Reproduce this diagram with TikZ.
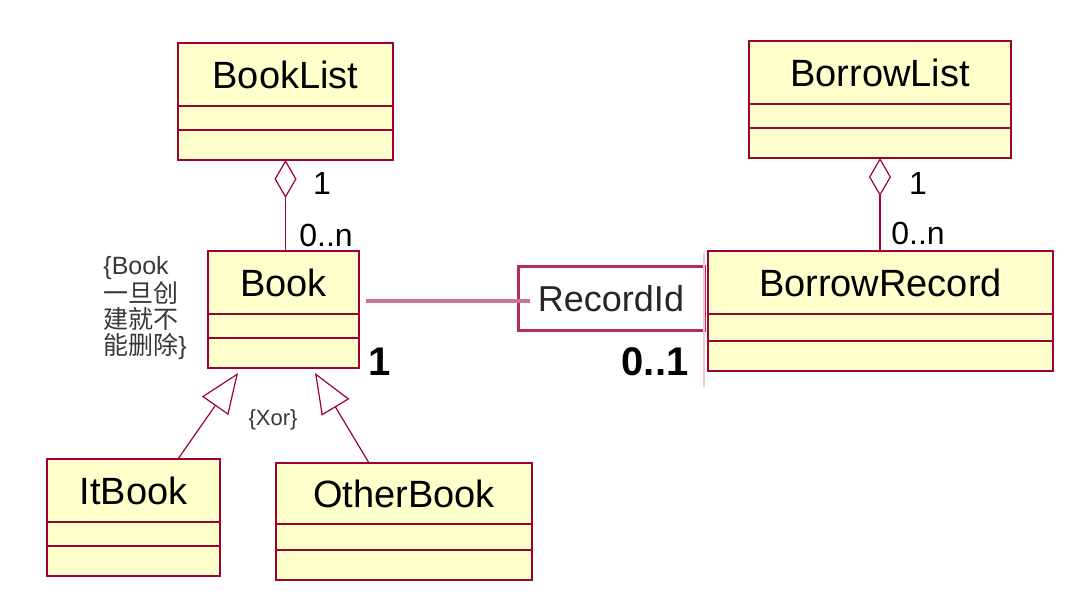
\documentclass[tikz,border=0pt]{standalone}
\usepackage{fontspec}
\setmainfont{Liberation Sans}
\newfontfamily\cjk{Noto Sans CJK SC}
\usetikzlibrary{arrows.meta,positioning,calc}
\definecolor{umlred}{RGB}{160,0,50}
\definecolor{umlfill}{RGB}{255,255,204}
\definecolor{qualline}{RGB}{205,115,150}
\definecolor{qualdraw}{RGB}{175,45,95}
\definecolor{faintline}{RGB}{240,200,215}
\definecolor{notegray}{RGB}{55,55,55}

\begin{document}
\begin{tikzpicture}[
		x=0.5pt, y=-0.5pt,
		classname/.style={rectangle, draw=umlred, fill=umlfill, line width=0.8pt, outer sep=0pt, inner sep=0pt, minimum width=#1, minimum height=31.5pt, anchor=north west, font=\fontsize{19}{22}\selectfont},
		attr/.style={rectangle, draw=umlred, fill=umlfill, line width=0.8pt, outer sep=0pt, inner sep=0pt, minimum width=#1, minimum height=12pt},
		ops/.style={rectangle, draw=umlred, fill=umlfill, line width=0.8pt, outer sep=0pt, inner sep=0pt, minimum width=#1, minimum height=15pt},
		mult/.style={inner sep=0pt, font=\fontsize{16}{18}\selectfont},
		bigmult/.style={inner sep=0pt, font=\fontsize{20}{22}\selectfont\bfseries},
		note/.style={inner sep=0pt, text=notegray, align=left, font=\fontsize{12.5}{12.8}\selectfont},
		qualifier/.style={rectangle, draw=qualdraw, line width=1.5pt, outer sep=0pt, inner sep=0pt, minimum width=93pt, minimum height=31.5pt, anchor=north west, text=black!85, font=\fontsize{18}{20}\selectfont},
		aggr/.style={draw=umlred, line width=0.6pt, -{Diamond[open, length=19pt, width=11pt]}},
		gener/.style={draw=umlred, line width=0.6pt, -{Triangle[open, length=20pt, width=16pt]}}
	]
	\useasboundingbox (0,0) rectangle (1092,593);

	% Classes
	\node (booklist) [classname=107.5pt] at (178,43) {BookList};
	\node (booklistattr) [attr=107.5pt, below=0pt of booklist] {};
	\node (booklistops) [ops=107.5pt, below=0pt of booklistattr] {};

	\node (borrowlist) [classname=131pt] at (749,41) {BorrowList};
	\node (borrowlistattr) [attr=131pt, below=0pt of borrowlist] {};
	\node (borrowlistops) [ops=131pt, below=0pt of borrowlistattr] {};

	\node (book) [classname=75.5pt] at (208,251) {Book};
	\node (bookattr) [attr=75.5pt, below=0pt of book] {};
	\node (bookops) [ops=75.5pt, below=0pt of bookattr] {};

	\node (borrowrecord) [classname=172.5pt] at (708,251) {BorrowRecord};
	\node (borrowrecordattr) [attr=172.5pt, below=0pt of borrowrecord, minimum height=13.5pt] {};
	\node (borrowrecordops) [ops=172.5pt, below=0pt of borrowrecordattr] {};

	\node (itbook) [classname=86.5pt] at (47,459) {ItBook};
	\node (itbookattr) [attr=86.5pt, below=0pt of itbook] {};
	\node (itbookops) [ops=86.5pt, below=0pt of itbookattr] {};

	\node (otherbook) [classname=128pt, minimum height=30.5pt] at (276,463) {OtherBook};
	\node (otherbookattr) [attr=128pt, below=0pt of otherbook, minimum height=13pt] {};
	\node (otherbookops) [ops=128pt, below=0pt of otherbookattr] {};

	% Qualifier
	\node (recid) [qualifier] at (518,267) {RecordId};
	\draw [faintline, line width=0.8pt] ([yshift=7pt]recid.north east) -- ([yshift=-28.5pt]recid.south east);
	\draw [qualline, line width=1.8pt] ([xshift=3.5pt,yshift=-9.25pt]book.east) -- ([xshift=6pt,yshift=-1.25pt]recid.west);

	% Aggregations
	\draw [aggr] (booklistops.south |- book.north) -- (booklistops.south);
	\draw [aggr] (borrowlistops.south |- borrowrecord.north) -- (borrowlistops.south);

	% Generalizations
	\draw [gener] ([xshift=22.25pt]itbook.north) -- ([xshift=-22.75pt,yshift=-2.5pt]bookops.south);
	\draw [gener] ([xshift=-17.5pt]otherbook.north) -- ([xshift=15.75pt,yshift=-2.5pt]bookops.south);

	% Labels
	\node (blone) [mult] at (322,183) {1};
	\node (blmany) [mult, anchor=west] at (299,235) {0..n};
	\node (brone) [mult] at (918,183) {1};
	\node (brmany) [mult, anchor=west] at (891,233) {0..n};
	\node (bookone) [bigmult] at (380,362) {1};
	\node (recone) [bigmult] at (655,362) {0..1};
	\node (booknote) [note, anchor=base west] at (103,354) {\{Book\\{\cjk 一旦创}\\{\cjk 建就不}\\{\cjk 能删除}\}};
	\node (xor) [inner sep=0pt, text=notegray, font=\fontsize{11}{12}\selectfont] at (273,420) {\{Xor\}};

\end{tikzpicture}
\end{document}
